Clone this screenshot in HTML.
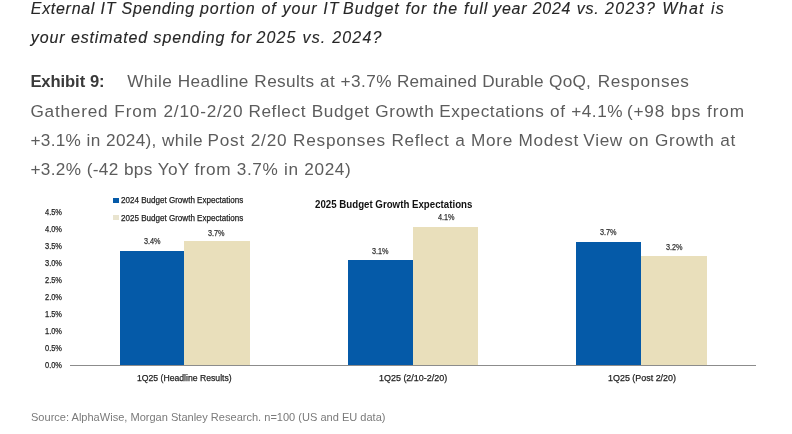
<!DOCTYPE html>
<html><head><meta charset="utf-8"><title>Exhibit 9</title>
<style>
html,body{margin:0;padding:0;background:#fff;}
#p{position:relative;width:792px;height:434px;overflow:hidden;background:#fff;font-family:"Liberation Sans", sans-serif;}
.t{position:absolute;white-space:nowrap;line-height:1;transform-origin:0 50%;}
.b{position:absolute;}
#tx{position:absolute;left:0;top:0;width:792px;height:434px;will-change:transform;}
</style></head><body><div id="p">
<div class="b" style="left:119.5px;top:250.5px;width:64.90px;height:114.70px;background:#055aa8"></div>
<div class="b" style="left:184.4px;top:241.1px;width:65.40px;height:124.10px;background:#e9dfbb"></div>
<div class="b" style="left:348.3px;top:259.8px;width:64.60px;height:105.40px;background:#055aa8"></div>
<div class="b" style="left:412.9px;top:226.6px;width:65.20px;height:138.60px;background:#e9dfbb"></div>
<div class="b" style="left:576.0px;top:241.6px;width:65.40px;height:123.60px;background:#055aa8"></div>
<div class="b" style="left:641.4px;top:255.8px;width:65.40px;height:109.40px;background:#e9dfbb"></div>
<div class="b" style="left:69.7px;top:364.6px;width:686px;height:1.1px;background:#8c8c8c"></div>
<div class="b" style="left:113.3px;top:197.6px;width:5.4px;height:5.4px;background:#055aa8"></div>
<div class="b" style="left:113.3px;top:215px;width:5.4px;height:5.4px;background:#e9e4cf"></div>
<div id="tx">
<div class="t" style="left:30.80px;top:1.06px;font-size:16px;color:#262626;font-style:italic;-webkit-text-stroke:0.12px #262626;letter-spacing:0.70px;word-spacing:0.30px">External IT Spending</div>
<div class="t" style="left:199.90px;top:1.06px;font-size:16px;color:#262626;font-style:italic;-webkit-text-stroke:0.12px #262626;letter-spacing:0.99px;word-spacing:0.30px">portion of your IT</div>
<div class="t" style="left:343.10px;top:1.06px;font-size:16px;color:#262626;font-style:italic;-webkit-text-stroke:0.12px #262626;letter-spacing:1.00px;word-spacing:0.30px">Budget for the full</div>
<div class="t" style="left:493.20px;top:1.06px;font-size:16px;color:#262626;font-style:italic;-webkit-text-stroke:0.12px #262626;letter-spacing:0.73px;word-spacing:0.30px">year 2024 vs.</div>
<div class="t" style="left:605.00px;top:1.06px;font-size:16px;color:#262626;font-style:italic;-webkit-text-stroke:0.12px #262626;letter-spacing:1.33px;word-spacing:0.30px">2023? What is</div>
<div class="t" style="left:30.80px;top:30.06px;font-size:16px;color:#262626;font-style:italic;-webkit-text-stroke:0.12px #262626;letter-spacing:0.85px;word-spacing:0.30px">your estimated spending for</div>
<div class="t" style="left:256.40px;top:30.06px;font-size:16px;color:#262626;font-style:italic;-webkit-text-stroke:0.12px #262626;letter-spacing:1.15px;word-spacing:0.30px">2025 vs. 2024?</div>
<div class="t" style="left:30.40px;top:74.45px;font-size:16.6px;color:#3a3a3a;font-weight:700;letter-spacing:-0.09px;word-spacing:0.30px">Exhibit 9:</div>
<div class="t" style="left:127.20px;top:73.04px;font-size:17.2px;color:#5c5c5c;letter-spacing:0.41px;word-spacing:0.30px">While Headline Results at +3.7%</div>
<div class="t" style="left:397.00px;top:73.04px;font-size:17.2px;color:#5c5c5c;letter-spacing:0.20px;word-spacing:0.30px">Remained Durable QoQ,</div>
<div class="t" style="left:597.70px;top:73.04px;font-size:17.2px;color:#5c5c5c;letter-spacing:0.66px;word-spacing:0.00px">Responses</div>
<div class="t" style="left:30.40px;top:103.04px;font-size:17.2px;color:#5c5c5c;letter-spacing:0.80px;word-spacing:0.30px">Gathered From 2/10-2/20</div>
<div class="t" style="left:248.40px;top:103.04px;font-size:17.2px;color:#5c5c5c;letter-spacing:0.59px;word-spacing:0.30px">Reflect Budget Growth</div>
<div class="t" style="left:439.30px;top:103.04px;font-size:17.2px;color:#5c5c5c;letter-spacing:0.56px;word-spacing:0.30px">Expectations of +4.1%</div>
<div class="t" style="left:626.90px;top:103.04px;font-size:17.2px;color:#5c5c5c;letter-spacing:0.83px;word-spacing:0.30px">(+98 bps from</div>
<div class="t" style="left:30.40px;top:132.14px;font-size:17.2px;color:#5c5c5c;letter-spacing:0.32px;word-spacing:0.30px">+3.1% in 2024), while</div>
<div class="t" style="left:207.60px;top:132.14px;font-size:17.2px;color:#5c5c5c;letter-spacing:0.75px;word-spacing:0.30px">Post 2/20 Responses</div>
<div class="t" style="left:391.40px;top:132.14px;font-size:17.2px;color:#5c5c5c;letter-spacing:0.65px;word-spacing:0.30px">Reflect a More Modest</div>
<div class="t" style="left:583.30px;top:132.14px;font-size:17.2px;color:#5c5c5c;letter-spacing:0.68px;word-spacing:0.30px">View on Growth at</div>
<div class="t" style="left:30.40px;top:161.44px;font-size:17.2px;color:#5c5c5c;letter-spacing:0.33px;word-spacing:0.30px">+3.2% (-42 bps YoY</div>
<div class="t" style="left:194.40px;top:161.44px;font-size:17.2px;color:#5c5c5c;letter-spacing:0.60px;word-spacing:0.30px">from 3.7% in 2024)</div>
<div class="t" style="left:31.30px;top:411.72px;font-size:11.2px;color:#7a7a7a;transform:scaleX(0.9871)">Source: AlphaWise, Morgan Stanley Research. n=100 (US and EU data)</div>
<div class="t" style="left:120.50px;top:195.78px;font-size:9px;color:#222;-webkit-text-stroke:0.25px #222;transform:scaleX(0.8946)">2024 Budget Growth Expectations</div>
<div class="t" style="left:120.50px;top:214.18px;font-size:9px;color:#222;-webkit-text-stroke:0.25px #222;transform:scaleX(0.8946)">2025 Budget Growth Expectations</div>
<div class="t" style="left:314.60px;top:198.73px;font-size:11.3px;color:#111;font-weight:700;transform:scaleX(0.8586)">2025 Budget Growth Expectations</div>
<div class="t" style="left:44.60px;top:208.03px;font-size:9px;color:#222;-webkit-text-stroke:0.25px #222;transform:scaleX(0.8286)">4.5%</div>
<div class="t" style="left:44.60px;top:225.03px;font-size:9px;color:#222;-webkit-text-stroke:0.25px #222;transform:scaleX(0.8286)">4.0%</div>
<div class="t" style="left:44.60px;top:242.03px;font-size:9px;color:#222;-webkit-text-stroke:0.25px #222;transform:scaleX(0.8286)">3.5%</div>
<div class="t" style="left:44.60px;top:259.03px;font-size:9px;color:#222;-webkit-text-stroke:0.25px #222;transform:scaleX(0.8286)">3.0%</div>
<div class="t" style="left:44.60px;top:276.03px;font-size:9px;color:#222;-webkit-text-stroke:0.25px #222;transform:scaleX(0.8286)">2.5%</div>
<div class="t" style="left:44.60px;top:293.03px;font-size:9px;color:#222;-webkit-text-stroke:0.25px #222;transform:scaleX(0.8286)">2.0%</div>
<div class="t" style="left:44.60px;top:310.03px;font-size:9px;color:#222;-webkit-text-stroke:0.25px #222;transform:scaleX(0.8286)">1.5%</div>
<div class="t" style="left:44.60px;top:327.03px;font-size:9px;color:#222;-webkit-text-stroke:0.25px #222;transform:scaleX(0.8286)">1.0%</div>
<div class="t" style="left:44.60px;top:344.03px;font-size:9px;color:#222;-webkit-text-stroke:0.25px #222;transform:scaleX(0.8286)">0.5%</div>
<div class="t" style="left:44.60px;top:361.03px;font-size:9px;color:#222;-webkit-text-stroke:0.25px #222;transform:scaleX(0.8286)">0.0%</div>
<div class="t" style="left:143.70px;top:236.78px;font-size:9px;color:#333;-webkit-text-stroke:0.25px #333;transform:scaleX(0.8091)">3.4%</div>
<div class="t" style="left:208.40px;top:228.68px;font-size:9px;color:#333;-webkit-text-stroke:0.25px #333;transform:scaleX(0.8091)">3.7%</div>
<div class="t" style="left:371.60px;top:246.78px;font-size:9px;color:#333;-webkit-text-stroke:0.25px #333;transform:scaleX(0.8091)">3.1%</div>
<div class="t" style="left:437.70px;top:212.98px;font-size:9px;color:#333;-webkit-text-stroke:0.25px #333;transform:scaleX(0.8091)">4.1%</div>
<div class="t" style="left:600.20px;top:228.28px;font-size:9px;color:#333;-webkit-text-stroke:0.25px #333;transform:scaleX(0.8091)">3.7%</div>
<div class="t" style="left:665.50px;top:242.78px;font-size:9px;color:#333;-webkit-text-stroke:0.25px #333;transform:scaleX(0.8091)">3.2%</div>
<div class="t" style="left:136.95px;top:373.46px;font-size:9.5px;color:#222;-webkit-text-stroke:0.25px #222;transform:scaleX(0.9103)">1Q25 (Headline Results)</div>
<div class="t" style="left:379.10px;top:373.46px;font-size:9.5px;color:#222;-webkit-text-stroke:0.25px #222;transform:scaleX(0.9425)">1Q25 (2/10-2/20)</div>
<div class="t" style="left:607.70px;top:373.46px;font-size:9.5px;color:#222;-webkit-text-stroke:0.25px #222;transform:scaleX(0.9398)">1Q25 (Post 2/20)</div>
</div>
</div></body></html>
